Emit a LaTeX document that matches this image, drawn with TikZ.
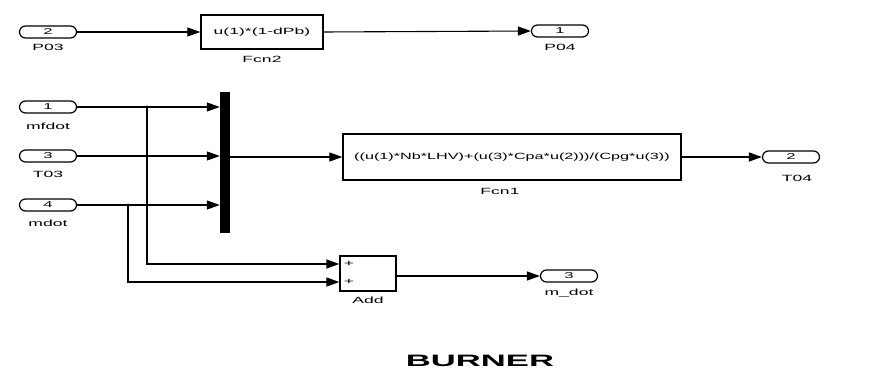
\documentclass[tikz,border=0pt]{standalone}
\usepackage{fontspec}
\setmainfont{Liberation Sans}
\usetikzlibrary{arrows.meta}
\newcommand{\st}[1]{\scalebox{1.95}[1]{#1}}
\begin{document}
\begin{tikzpicture}[x=1pt,y=-1pt,
  port/.style={draw,line width=1.2pt,rounded corners=6pt,minimum width=57pt,minimum height=12pt,inner sep=0pt,font=\fontsize{8.5}{8.5}\selectfont},
  blk/.style={draw,line width=1.3pt,inner sep=0pt,font=\fontsize{9}{9}\selectfont},
  lbl/.style={font=\fontsize{9}{9}\selectfont,inner sep=0pt},
  sig/.style={line width=1.1pt,-{Triangle[length=13pt,width=9pt]}},
  dot/.style={circle,fill,inner sep=0pt,minimum size=3pt}]
\useasboundingbox (0,0) rectangle (883,371);
% top row
\node[port] (p03) at (48,32) {\st{2}};
\node[lbl] (p03l) at (48,47.5) {\st{P03}};
\node[blk,minimum width=122pt,minimum height=34pt] (fcn2) at (262,32) {\st{u(1)*(1-dPb)}};
\node[lbl] (fcn2l) at (262,59) {\st{Fcn2}};
\node[port] (p04) at (560,31) {\st{1}};
\node[lbl] (p04l) at (560,47.5) {\st{P04}};
\draw[sig] (p03.east) -- (fcn2.west);
\draw[sig] (fcn2.east) -- (p04.west);
% inputs
\node[port] (mf) at (48,107) {\st{1}};
\node[lbl] (mfl) at (48,126) {\st{mfdot}};
\node[port] (t03) at (48,156) {\st{3}};
\node[lbl] (t03l) at (48,174) {\st{T03}};
\node[port] (md) at (48,205) {\st{4}};
\node[lbl] (mdl) at (48,223) {\st{mdot}};
% mux
\node[fill,minimum width=10pt,minimum height=141pt,inner sep=0pt] (mux) at (225,162.5) {};
\draw[sig] (mf.east) -- (mf.east -| mux.west);
\draw[sig] (t03.east) -- (t03.east -| mux.west);
\draw[sig] (md.east) -- (md.east -| mux.west);
% Fcn1
\node[blk,minimum width=338pt,minimum height=46pt] (fcn1) at (512,157) {\scalebox{1.8}[1]{((u(1)*Nb*LHV)+(u(3)*Cpa*u(2)))/(Cpg*u(3))}};
\node[lbl] (fcn1l) at (500,191) {\st{Fcn1}};
\node[port] (t04) at (791,157) {\st{2}};
\node[lbl] (t04l) at (797,178) {\st{T04}};
\draw[sig] (mux.east |- fcn1.west) -- (fcn1.west);
\draw[sig] (fcn1.east) -- (t04.west);
% Add
\node[blk,minimum width=56pt,minimum height=35pt] (add) at (368,273.5) {};
\node[lbl] (plus1) at (349,264) {\st{+}};
\node[lbl] (plus2) at (349,282) {\st{+}};
\node[lbl] (addl) at (368,300) {\st{Add}};
\coordinate (in1) at (add.west |- 0,264);
\coordinate (in2) at (add.west |- 0,282);
\coordinate (j1) at (147,107);
\coordinate (j2) at (128,205);
\node[dot] (d1) at (j1) {};
\node[dot] (d2) at (j2) {};
\draw[sig] (j1) |- (in1);
\draw[sig] (j2) |- (in2);
\node[port] (mdo) at (569,276) {\st{3}};
\node[lbl] (mdol) at (569,293) {\st{m\_dot}};
\draw[sig] (add.east |- mdo.west) -- (mdo.west);
% title
\node[inner sep=0pt,font=\fontsize{16.5}{16.5}\selectfont\bfseries] (title) at (480,361) {\scalebox{2.1}[1]{BURNER}};
\end{tikzpicture}
\end{document}
